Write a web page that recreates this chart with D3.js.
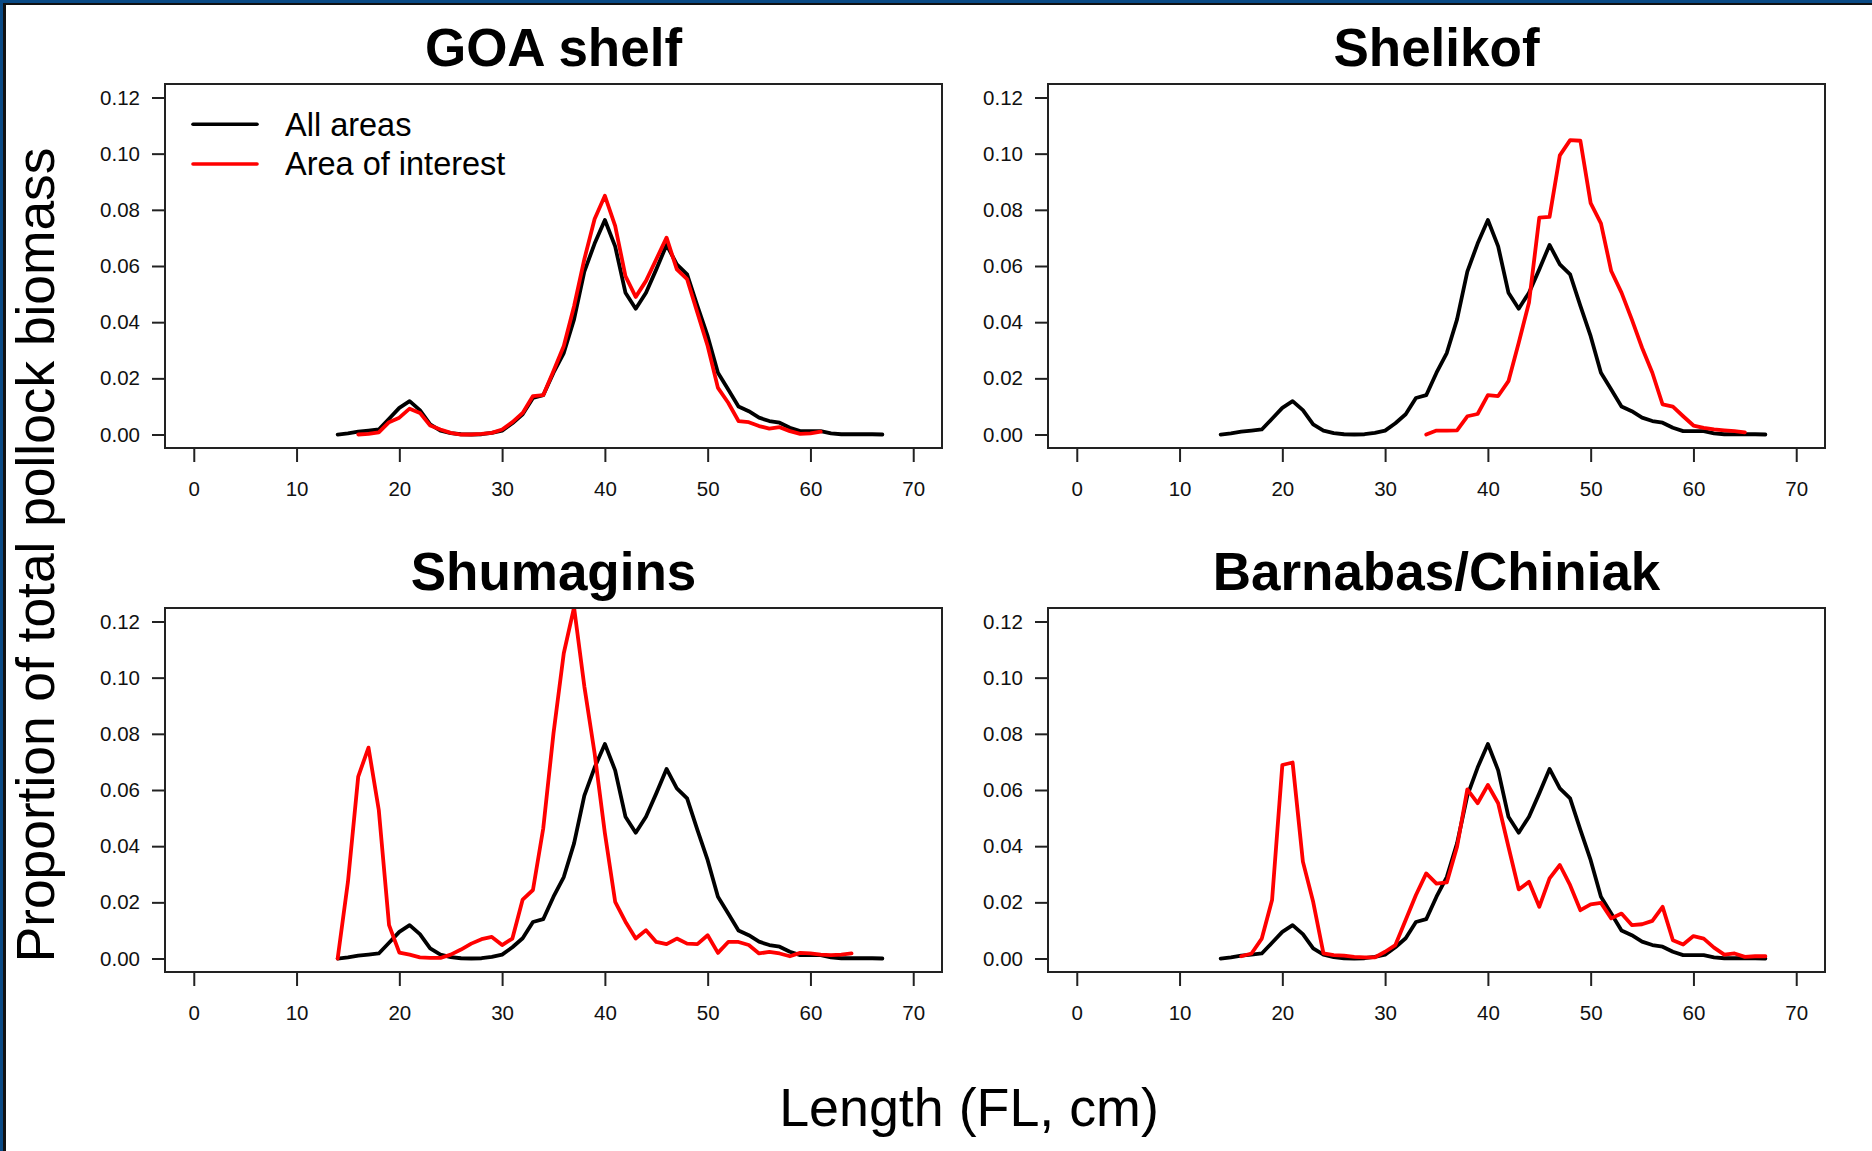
<!DOCTYPE html>
<html>
<head>
<meta charset="utf-8">
<script src="https://cdn.jsdelivr.net/npm/d3@7"></script>
<style>
  body { margin: 0; background: #ffffff; }
  svg { display: block; font-family: "Liberation Sans", Arial, sans-serif; }
</style>
</head>
<body>
<div id="chart"></div>
<script>
// Length bins (FL, cm)
const lengths = [14, 15, 16, 17, 18, 19, 20, 21, 22, 23, 24, 25, 26, 27, 28, 29, 30, 31, 32, 33,
  34, 35, 36, 37, 38, 39, 40, 41, 42, 43, 44, 45, 46, 47, 48, 49, 50, 51, 52, 53,
  54, 55, 56, 57, 58, 59, 60, 61, 62, 63, 64, 65, 66, 67];

// Black line: all areas (same in every panel)
const allAreas = [0.0000, 0.0004, 0.0010, 0.0014, 0.0018, 0.0056, 0.0095, 0.0119, 0.0087, 0.0036,
  0.0014, 0.0005, 0.0001, 0.0000, 0.0001, 0.0006, 0.0014, 0.0040, 0.0072, 0.0130,
  0.0140, 0.0220, 0.0290, 0.0410, 0.0580, 0.0680, 0.0764, 0.0670, 0.0505, 0.0448,
  0.0505, 0.0588, 0.0675, 0.0606, 0.0570, 0.0458, 0.0350, 0.0220, 0.0160, 0.0100,
  0.0083, 0.0060, 0.0048, 0.0042, 0.0024, 0.0012, 0.0012, 0.0012, 0.0004, 0.0001,
  0.0001, 0.0001, 0.0001, 0.0000];

// Red lines: area of interest (null = no data for that bin)
const goaShelf = [null, null, 0.0000, 0.0002, 0.0008, 0.0044, 0.0060, 0.0092, 0.0077, 0.0032,
  0.0018, 0.0006, 0.0000, 0.0000, 0.0002, 0.0006, 0.0018, 0.0044, 0.0077, 0.0137,
  0.0140, 0.0226, 0.0315, 0.0457, 0.0624, 0.0767, 0.0850, 0.0743, 0.0564, 0.0490,
  0.0547, 0.0624, 0.0701, 0.0588, 0.0553, 0.0434, 0.0315, 0.0166, 0.0113, 0.0048,
  0.0044, 0.0030, 0.0021, 0.0026, 0.0012, 0.0002, 0.0004, 0.0010, null, null,
  null, null, null, null];

const shelikof = [null, null, null, null, null, null, null, null, null, null,
  null, null, null, null, null, null, null, null, null, null,
  0.0000, 0.0014, 0.0014, 0.0015, 0.0065, 0.0073, 0.0140, 0.0137, 0.0190, 0.0327,
  0.0470, 0.0772, 0.0775, 0.0994, 0.1048, 0.1046, 0.0824, 0.0752, 0.0582, 0.0505,
  0.0410, 0.0309, 0.0220, 0.0107, 0.0099, 0.0065, 0.0032, 0.0024, 0.0018, 0.0015,
  0.0012, 0.0008, null, null];

const shumagins = [0.0000, 0.0273, 0.0648, 0.0751, 0.0529, 0.0119, 0.0021, 0.0014, 0.0004, 0.0002,
  0.0002, 0.0014, 0.0032, 0.0053, 0.0069, 0.0077, 0.0048, 0.0071, 0.0210, 0.0244,
  0.0463, 0.0802, 0.1087, 0.1250, 0.0969, 0.0731, 0.0446, 0.0202, 0.0131, 0.0071,
  0.0101, 0.0059, 0.0051, 0.0071, 0.0053, 0.0051, 0.0083, 0.0020, 0.0059, 0.0059,
  0.0048, 0.0018, 0.0024, 0.0018, 0.0008, 0.0020, 0.0018, 0.0014, 0.0012, 0.0014,
  0.0018, null, null, null];

const barnabas = [null, null, 0.0008, 0.0018, 0.0071, 0.0208, 0.0689, 0.0698, 0.0345, 0.0202,
  0.0018, 0.0012, 0.0010, 0.0006, 0.0004, 0.0004, 0.0024, 0.0048, 0.0137, 0.0226,
  0.0303, 0.0267, 0.0271, 0.0398, 0.0602, 0.0553, 0.0618, 0.0553, 0.0398, 0.0246,
  0.0273, 0.0184, 0.0285, 0.0333, 0.0261, 0.0172, 0.0193, 0.0198, 0.0143, 0.0160,
  0.0119, 0.0122, 0.0134, 0.0184, 0.0065, 0.0050, 0.0080, 0.0071, 0.0039, 0.0014,
  0.0018, 0.0006, 0.0008, 0.0008];

const titles = ["GOA shelf", "Shelikof", "Shumagins", "Barnabas/Chiniak"];
const xTicks = [0, 10, 20, 30, 40, 50, 60, 70];
const yTicks = [0, 0.02, 0.04, 0.06, 0.08, 0.10, 0.12];
const legendLabels = ["All areas", "Area of interest"];

const panels = [
  {title: titles[0], red: goaShelf, col: 0, row: 0, legend: true},
  {title: titles[1], red: shelikof, col: 1, row: 0},
  {title: titles[2], red: shumagins, col: 0, row: 1},
  {title: titles[3], red: barnabas, col: 1, row: 1}
];

// layout
const W = 1872, H = 1151;
const boxW = 777, boxH = 364;
const colX = [165, 1048], rowY = [84, 608];

const svg = d3.select("#chart").append("svg")
    .attr("width", W)
    .attr("height", H);

svg.append("rect").attr("width", W).attr("height", H).attr("fill", "#ffffff");

// frame at top and left edges
svg.append("rect").attr("x", 0).attr("y", 0).attr("width", W).attr("height", 3).attr("fill", "#0a4a85");
svg.append("rect").attr("x", 3).attr("y", 3).attr("width", W - 3).attr("height", 2).attr("fill", "#111");
svg.append("rect").attr("x", 0).attr("y", 0).attr("width", 3).attr("height", H).attr("fill", "#0a4a85");
svg.append("rect").attr("x", 3).attr("y", 3).attr("width", 3).attr("height", H).attr("fill", "#111");

// scales are the same for every panel (R's 4% expansion)
let x = d3.scaleLinear().domain([-2.8, 72.8]).range([0, boxW]);
let y = d3.scaleLinear().domain([-0.0048, 0.1248]).range([boxH, 0]);

let line = d3.line()
    .defined(function (d) { return d[1] != null; })
    .x(function (d) { return x(d[0]); })
    .y(function (d) { return y(d[1]); });

panels.forEach(function (p, i) {
    let g = svg.append("g")
        .attr("transform", "translate(" + colX[p.col] + "," + rowY[p.row] + ")");

    // clip to the plot box
    g.append("clipPath").attr("id", "clip" + i)
        .append("rect").attr("width", boxW).attr("height", boxH);

    // title
    g.append("text")
        .attr("x", boxW / 2)
        .attr("y", -18.5)
        .attr("text-anchor", "middle")
        .style("font-size", "53px")
        .style("font-weight", "bold")
        .style("fill", "#000")
        .text(p.title);

    // Y axis
    let yAxis = g.append("g")
        .call(d3.axisLeft(y).tickValues(yTicks).tickFormat(d3.format(".2f")).tickSize(13).tickPadding(12));
    yAxis.select(".domain").remove();

    // X axis
    let xAxis = g.append("g")
        .attr("transform", "translate(0," + boxH + ")")
        .call(d3.axisBottom(x).tickValues(xTicks).tickFormat(d3.format("d")).tickSize(14).tickPadding(19));
    xAxis.select(".domain").remove();

    g.selectAll(".tick line").attr("stroke", "#222").attr("stroke-width", 2);
    g.selectAll(".tick text")
        .style("font-size", "20.5px")
        .style("font-family", "'Liberation Sans', Arial, sans-serif")
        .attr("fill", "#111");

    // lines
    let plot = g.append("g").attr("clip-path", "url(#clip" + i + ")");

    plot.append("path")
        .datum(d3.zip(lengths, allAreas))
        .attr("d", line)
        .attr("fill", "none")
        .attr("stroke", "#000")
        .attr("stroke-width", 3.8)
        .attr("stroke-linejoin", "round")
        .attr("stroke-linecap", "round");

    plot.append("path")
        .datum(d3.zip(lengths, p.red))
        .attr("d", line)
        .attr("fill", "none")
        .attr("stroke", "#ff0000")
        .attr("stroke-width", 3.8)
        .attr("stroke-linejoin", "round")
        .attr("stroke-linecap", "round");

    // box
    g.append("rect")
        .attr("width", boxW)
        .attr("height", boxH)
        .attr("fill", "none")
        .attr("stroke", "#222")
        .attr("stroke-width", 2);

    // legend (first panel only)
    if (p.legend) {
        let colors = ["#000", "#ff0000"];
        legendLabels.forEach(function (lab, k) {
            g.append("line")
                .attr("x1", 28).attr("x2", 92)
                .attr("y1", 40.3 + k * 39.7).attr("y2", 40.3 + k * 39.7)
                .attr("stroke", colors[k])
                .attr("stroke-width", 3.6)
                .attr("stroke-linecap", "round");
            g.append("text")
                .attr("x", 120)
                .attr("y", 51.7 + k * 39.5)
                .style("font-size", "32.5px")
                .style("fill", "#000")
                .text(lab);
        });
    }
});

// shared axis titles
svg.append("text")
    .attr("transform", "translate(54,555) rotate(-90)")
    .attr("text-anchor", "middle")
    .style("font-size", "53.3px")
    .style("fill", "#000")
    .text("Proportion of total pollock biomass");

svg.append("text")
    .attr("x", 969)
    .attr("y", 1126)
    .attr("text-anchor", "middle")
    .style("font-size", "53.8px")
    .style("fill", "#000")
    .text("Length (FL, cm)");
</script>
</body>
</html>
